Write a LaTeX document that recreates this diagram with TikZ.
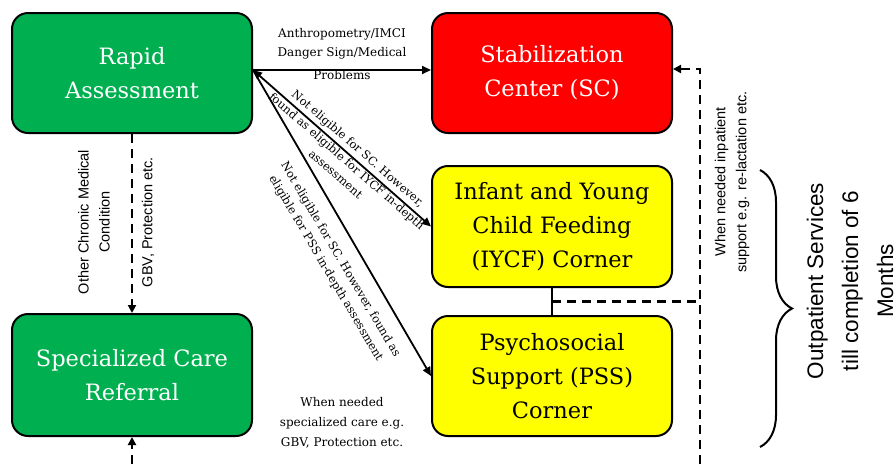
\documentclass[tikz,border=0pt]{standalone}
\usepackage{fontspec}
\setmainfont{DejaVu Serif}
\setsansfont{Liberation Sans}
\usetikzlibrary{arrows.meta,decorations.pathreplacing,calc}
\definecolor{boxgreen}{HTML}{00B050}
\definecolor{boxred}{HTML}{FF0000}
\definecolor{boxyellow}{HTML}{FFFF00}
\begin{document}
\begin{tikzpicture}[x=1pt,y=-1pt,
  box/.style={draw=black, line width=2pt, rounded corners=16pt,
    minimum width=240pt, minimum height=120pt, align=center, inner sep=0pt,
    font=\fontsize{22.5}{34}\selectfont},
  gbox/.style={box, fill=boxgreen, text=white},
  rbox/.style={box, fill=boxred, text=white},
  ybox/.style={box, fill=boxyellow, text=black},
  lab/.style={font=\fontsize{12}{19}\selectfont, align=center, inner sep=0pt},
  dlab/.style={font=\fontsize{11.5}{17}\selectfont, align=center, inner sep=0pt},
  slab/.style={font=\sffamily\fontsize{14.5}{21}\selectfont, align=center, inner sep=0pt},
  blab/.style={font=\sffamily\fontsize{22.5}{35}\selectfont, align=center, inner sep=0pt},
  arr/.style={line width=1.8pt, -{Triangle[length=9pt,width=8pt]}},
  dsh/.style={line width=2.5pt, dash pattern=on 9pt off 6pt},
  darr/.style={dsh, -{Triangle[length=8pt,width=8pt]}}
]
\useasboundingbox[fill=white] (0,0) rectangle (896,464);

% boxes
\node[gbox] (RA) at (132,73) {Rapid\\Assessment};
\node[rbox] (SC) at (552,73) {Stabilization\\Center (SC)};
\node[ybox, minimum height=121pt] (IYCF) at (552,226.5) {Infant and Young\\Child Feeding\\(IYCF) Corner};
\node[ybox] (PSS) at (552,376) {Psychosocial\\Support (PSS)\\Corner};
\node[gbox, minimum height=122pt] (SCR) at (132,375) {Specialized Care\\Referral};

% solid arrows
\draw[arr] ([yshift=3pt]RA.east) -- ([yshift=3pt]SC.west);
\draw[arr, {Triangle[length=9pt,width=8pt]}-{Triangle[length=9pt,width=8pt]}] ([yshift=3pt]RA.east) -- (IYCF.west);
\draw[arr] ([yshift=3pt]RA.east) -- (PSS.west);
\draw[line width=2.2pt] (IYCF.south) -- (PSS.north);

% dashed arrows
\draw[darr] (RA.south) -- (SCR.north);
\coordinate (bot) at (132,464);
\draw[darr] (bot) -- (SCR.south);
\coordinate (rb) at (700,464);
\draw[darr] (rb) |- ([yshift=4pt]SC.east);
\coordinate (jn) at ($(IYCF.south)!0.5!(PSS.north)$);
\draw[dsh] (jn) -- (jn -| rb);

% brace
\coordinate (bt) at (760,170);
\coordinate (bb) at (760,447);
\draw[line width=2pt, decorate, decoration={brace, amplitude=32pt}] (bt) -- (bb);

% labels
\node[lab] (anth) at (342,44) {Anthropometry/IMCI\\Danger Sign/Medical};
\node[lab] (prob) at (342,75) {Problems};
\node[dlab, rotate=-41] (d1) at (347,161) {Not eligible for SC. However,\\found as eligible for IYCF in-depth\\assessment};
\node[dlab, rotate=-59.5] (d2) at (333,264) {Not eligible for SC. However, found as\\eligible for PSS in-depth assessment};
\node[lab, font=\fontsize{12}{20}\selectfont] (spc) at (342,423) {When needed\\specialized care e.g.\\GBV, Protection etc.};
\node[slab, rotate=90] (oth) at (94,222) {Other Chronic Medical\\Condition};
\node[slab, rotate=90] (gbv) at (148,222) {GBV, Protection etc.};
\node[slab, rotate=90] (inp) at (732,182) {When needed inpatient\\support e.g. re-lactation etc.};
\node[blab, rotate=90] (out) at (850,281) {Outpatient Services\\till completion of 6\\Months};
\end{tikzpicture}
\end{document}
